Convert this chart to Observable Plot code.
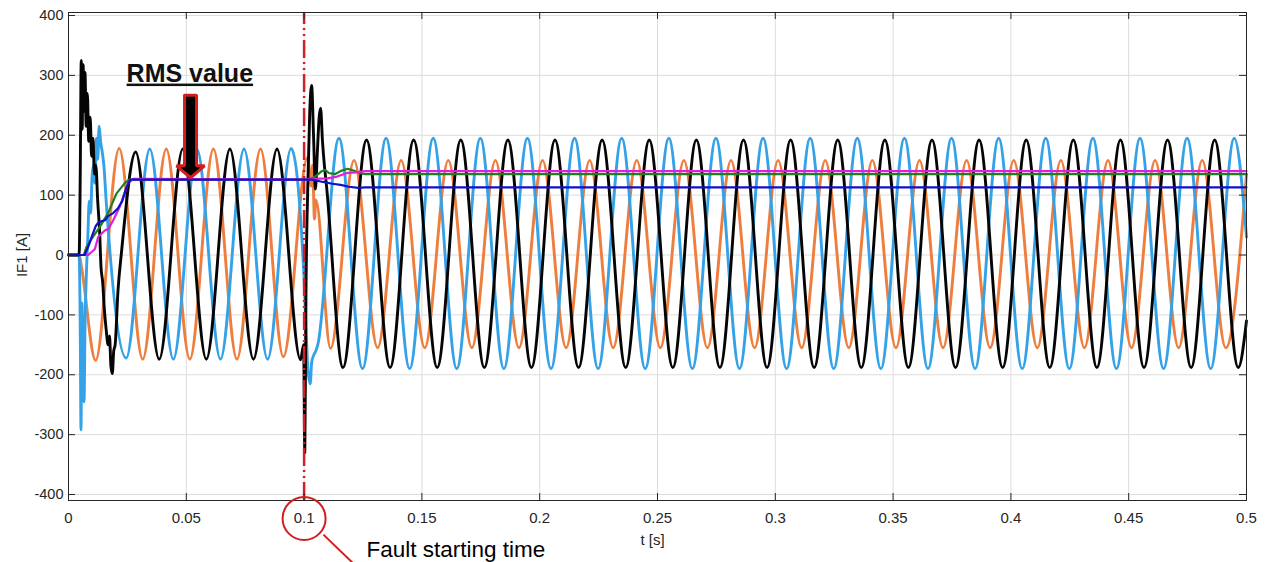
<!DOCTYPE html>
<html><head><meta charset="utf-8">
<script src="https://cdn.jsdelivr.net/npm/d3@7"></script>
<script src="https://cdn.jsdelivr.net/npm/@observablehq/plot@0.6"></script>
<style>
body{margin:0;background:#fff;}
#chart svg{display:block;}
</style></head><body><div id="chart"></div>
<script>
// ---- data (t [s], current [A]) ----
const xTicks = [0, 0.05, 0.1, 0.15, 0.2, 0.25, 0.3, 0.35, 0.4, 0.45, 0.5];
const yTicks = [-400, -300, -200, -100, 0, 100, 200, 300, 400];

const phaseOrange = [
[0,0],[0.0045,0],[0.0055,-20],[0.0115,-176],[0.0215,178],[0.0315,-174],[0.0415,177],[0.0515,-174],[0.0615,177],[0.0715,-174],[0.0815,177],[0.0912,-170],[0.1015,163],[0.1030,115],[0.1036,150],[0.1044,60],[0.1050,92],[0.1112,-156],
[0.1212,158],[0.1312,-155],[0.1412,158],[0.1512,-155],[0.1612,158],[0.1712,-155],[0.1812,158],[0.1912,-155],[0.2012,158],[0.2112,-155],[0.2212,158],[0.2312,-155],[0.2412,158],[0.2512,-155],[0.2612,158],[0.2712,-155],[0.2812,158],[0.2912,-155],[0.3012,158],[0.3112,-155],[0.3212,158],[0.3312,-155],[0.3412,158],[0.3512,-155],[0.3612,158],[0.3712,-155],[0.3812,158],[0.3912,-155],[0.4012,158],[0.4112,-155],[0.4212,158],[0.4312,-155],[0.4412,158],[0.4512,-155],[0.4612,158],[0.4712,-155],[0.4812,158],[0.4912,-155],[0.5,135]
];

const phaseBlack = [
[0,0],[0.0045,0],[0.0050,140],[0.0054,325],[0.0058,210],[0.0062,318],[0.0066,240],[0.0070,305],[0.0075,215],[0.0080,270],[0.0086,190],[0.0092,230],[0.0098,165],[0.0104,195],[0.0110,135],[0.0116,150],[0.0124,90],[0.0132,40],[0.0138,-20],[0.0145,-45],[0.0152,-90],[0.0160,-125],[0.0168,-150],[0.0174,-135],[0.0180,-185],[0.0186,-198],[0.0192,-160],[0.0198,-150],[0.0210,-60],[0.0225,5],[0.0285,172],
[0.0385,-174],[0.0485,177],[0.0585,-174],[0.0685,177],[0.0785,-174],[0.0885,177],[0.0985,-175],[0.0998,-150],[0.1003,-330],[0.1008,-60],[0.1016,120],[0.1024,240],[0.1032,283],[0.1040,200],[0.1048,110],[0.1056,170],[0.1064,230],[0.1070,245],[0.1078,190],[0.1086,150],[0.1094,120],
[0.1165,-188],[0.1265,192],[0.1365,-188],[0.1465,192],[0.1565,-188],[0.1665,192],[0.1765,-188],[0.1865,192],[0.1965,-188],[0.2065,192],[0.2165,-188],[0.2265,192],[0.2365,-188],[0.2465,192],[0.2565,-188],[0.2665,192],[0.2765,-188],[0.2865,192],[0.2965,-188],[0.3065,192],[0.3165,-188],[0.3265,192],[0.3365,-188],[0.3465,192],[0.3565,-188],[0.3665,192],[0.3765,-188],[0.3865,192],[0.3965,-188],[0.4065,192],[0.4165,-188],[0.4265,192],[0.4365,-188],[0.4465,192],[0.4565,-188],[0.4665,192],[0.4765,-188],[0.4865,192],[0.4965,-188],[0.5,-110]
];

const phaseBlue = [
[0,0],[0.0045,0],[0.0050,-130],[0.0053,-292],[0.0057,-80],[0.0061,-170],[0.0066,-245],[0.0070,-120],[0.0076,-30],[0.0082,30],[0.0088,90],[0.0094,70],[0.0100,130],[0.0106,150],[0.0112,120],[0.0118,195],[0.0124,160],[0.0130,215],[0.0136,190],[0.0142,175],[0.0150,150],[0.0160,90],[0.0245,-172],
[0.0345,177],[0.0445,-174],[0.0545,177],[0.0645,-174],[0.0745,177],[0.0845,-174],[0.0945,178],[0.1000,-40],[0.1008,-120],[0.1016,-190],[0.1026,-215],[0.1032,-180],[0.1040,-168],[0.1050,-160],[0.1058,-150],
[0.1148,195],[0.1248,-190],[0.1348,195],[0.1448,-190],[0.1548,195],[0.1648,-190],[0.1748,195],[0.1848,-190],[0.1948,195],[0.2048,-190],[0.2148,195],[0.2248,-190],[0.2348,195],[0.2448,-190],[0.2548,195],[0.2648,-190],[0.2748,195],[0.2848,-190],[0.2948,195],[0.3048,-190],[0.3148,195],[0.3248,-190],[0.3348,195],[0.3448,-190],[0.3548,195],[0.3648,-190],[0.3748,195],[0.3848,-190],[0.3948,195],[0.4048,-190],[0.4148,195],[0.4248,-190],[0.4348,195],[0.4448,-190],[0.4548,195],[0.4648,-190],[0.4748,195],[0.4848,-190],[0.4948,195],[0.5,30]
];

const rmsGreen = [
[0,0],[0.0065,0],[0.0076,13],[0.0098,27],[0.0133,47],[0.0168,70],[0.0204,103],[0.0239,120],[0.0258,126],[0.1,126],[0.1035,128],[0.106,135],[0.1075,140],[0.109,142],[0.1105,137],[0.113,135],[0.116,141],[0.1185,144],[0.121,141],[0.1235,137],[0.126,135],[0.5,135]
];
const rmsMagenta = [
[0,0],[0.0084,0],[0.0112,10],[0.0126,30],[0.0154,41],[0.017,44],[0.019,58],[0.0218,81],[0.0253,120],[0.0275,127],[0.1,126],[0.104,127],[0.11,128],[0.114,131],[0.1183,137],[0.122,138],[0.126,140],[0.5,140]
];
const rmsBlue = [
[0,0],[0.0068,0],[0.0085,15],[0.0098,30],[0.0115,48],[0.0128,55],[0.0155,58],[0.0168,65],[0.019,70],[0.021,78],[0.0228,90],[0.0245,112],[0.0263,126],[0.1,126],[0.1034,126],[0.108,122],[0.112,119],[0.1155,117],[0.119,114],[0.123,112],[0.126,113],[0.5,113]
];

const faultTime = [0.1];
const rmsLabel = [{t: 0.0515, v: 303, text: "RMS value"}];
const rmsArrow = [{t: 0.0518, top: 267, base: 149, tip: 129}];
const faultCircle = [{t: 0.1, v: -440}];
const faultLeader = [{t1: 0.1082, v1: -467, t2: 0.1227, v2: -522}];
const faultLabel = [{t: 0.1265, v: -492, text: "Fault starting time"}];
const xLabel = [{t: 0.2479, v: -477, text: "t [s]"}];
const yLabel = [{t: -0.0195, v: 0, text: "IF1 [A]"}];

// ---- layout ----
const W = 1270, H = 562;
const mL = 68, mR = 24, mT = 12, mB = 62;
const xDom = [0, 0.5], yDom = [-410, 405];
const pxX = (xDom[1] - xDom[0]) / (W - mL - mR);   // seconds per pixel
const pxY = (yDom[1] - yDom[0]) / (H - mT - mB);   // amps per pixel
const tick = 7;

// arrow polygon built from the annotation anchor
const arrowPts = rmsArrow.flatMap(a => {
  const s = 6 * pxX, h = 14 * pxX;
  return [[a.t - s, a.top], [a.t + s, a.top], [a.t + s, a.base], [a.t + h, a.base],
          [a.t, a.tip], [a.t - h, a.base], [a.t - s, a.base], [a.t - s, a.top]];
});

const font = "'Liberation Sans', Arial, Helvetica, sans-serif";
const axisColor = "#262626";
const X = d => d[0], Y = d => d[1];

const chart = Plot.plot({
  width: W, height: H,
  marginLeft: mL, marginRight: mR, marginTop: mT, marginBottom: mB,
  style: {fontFamily: font, background: "#fff", overflow: "visible"},
  x: {domain: xDom},
  y: {domain: yDom},
  marks: [
    Plot.gridX(xTicks, {stroke: "#dcdcdc", strokeOpacity: 1}),
    Plot.gridY(yTicks, {stroke: "#dcdcdc", strokeOpacity: 1}),
    Plot.line(phaseOrange, {x: X, y: Y, stroke: "#ee7e3e", strokeWidth: 2.9, curve: "monotone-x"}),
    Plot.line(phaseBlue, {x: X, y: Y, stroke: "#35a2e8", strokeWidth: 2.9, curve: "monotone-x"}),
    Plot.line(phaseBlack, {x: X, y: Y, stroke: "#050505", strokeWidth: 2.9, curve: "monotone-x"}),
    Plot.ruleX(faultTime, {x: d => d, y1: yDom[0], y2: yDom[1], stroke: "#d0202a", strokeWidth: 2.5, strokeDasharray: "18,4,2,4,2,4"}),
    Plot.line(rmsGreen, {x: X, y: Y, stroke: "#1f7f1f", strokeWidth: 2.2}),
    Plot.line(rmsMagenta, {x: X, y: Y, stroke: "#e01fd8", strokeWidth: 2.2}),
    Plot.line(rmsBlue, {x: X, y: Y, stroke: "#1010c8", strokeWidth: 2.2}),
    // frame and inward ticks (MATLAB style box)
    Plot.frame({stroke: axisColor, strokeWidth: 1}),
    Plot.ruleX(xTicks, {x: d => d, y1: yDom[0], y2: yDom[0] + tick * pxY, stroke: axisColor}),
    Plot.ruleX(xTicks, {x: d => d, y1: yDom[1], y2: yDom[1] - tick * pxY, stroke: axisColor}),
    Plot.ruleY(yTicks, {y: d => d, x1: xDom[0], x2: xDom[0] + tick * pxX, stroke: axisColor}),
    Plot.ruleY(yTicks, {y: d => d, x1: xDom[1], x2: xDom[1] - tick * pxX, stroke: axisColor}),
    Plot.axisX(xTicks, {tickSize: 0, tickPadding: 12, tickFormat: d => String(d), fontSize: 15, color: axisColor, label: null}),
    Plot.axisY(yTicks, {tickSize: 0, tickPadding: 5, tickFormat: d => String(d), fontSize: 14.5, color: axisColor, label: null}),
    Plot.text(xLabel, {x: "t", y: "v", text: "text", fontSize: 15, fill: axisColor}),
    Plot.text(yLabel, {x: "t", y: "v", text: "text", fontSize: 15, fill: axisColor, rotate: -90}),
    // annotations
    Plot.line(arrowPts, {x: X, y: Y, fill: "#000", stroke: "#d41e1e", strokeWidth: 3, strokeLinejoin: "miter"}),
    Plot.text(rmsLabel, {x: "t", y: "v", text: "text", fontSize: 25, fontWeight: "bold", fill: "#111"}),
    Plot.dot(faultCircle, {x: "t", y: "v", r: 21.5, stroke: "#d41e1e", strokeWidth: 2, fill: "none"}),
    Plot.link(faultLeader, {x1: "t1", y1: "v1", x2: "t2", y2: "v2", stroke: "#d41e1e", strokeWidth: 2}),
    Plot.text(faultLabel, {x: "t", y: "v", text: "text", fontSize: 22.5, textAnchor: "start", fill: "#000"})
  ]
});

chart.querySelectorAll("text").forEach(t => {
  if (t.textContent === "RMS value") t.style.textDecoration = "underline";
});
document.getElementById("chart").appendChild(chart);
</script>
</body></html>
